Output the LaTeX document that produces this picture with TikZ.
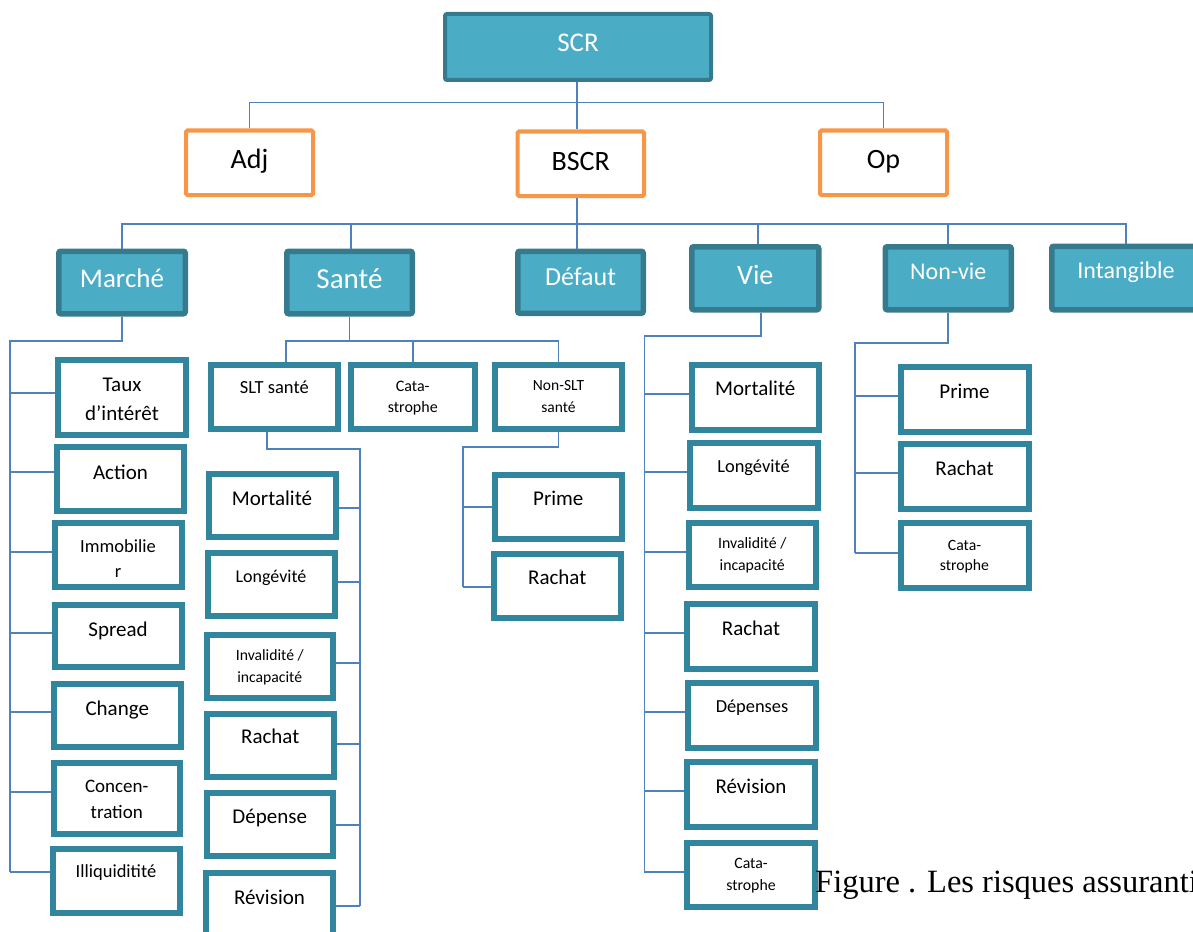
\documentclass[tikz,border=0pt]{standalone}
\usepackage{fontspec}
\setmainfont{Carlito}
\newfontfamily\capfont{Liberation Serif}
\usetikzlibrary{calc}

\definecolor{tealfill}{HTML}{4BACC6}
\definecolor{tealdark}{HTML}{367B8D}
\definecolor{leafedge}{HTML}{31859C}
\definecolor{orangeedge}{HTML}{F79646}
\definecolor{wire}{HTML}{4F81BD}

% font size / baseline skip in pt (1pt = 1 unit of the drawing)
\newcommand\fs[2]{\fontsize{#1pt}{#2pt}\selectfont}
% two centred lines, baseline of the node = baseline of the first line
\newcommand\two[2]{\begin{tabular}[t]{@{}c@{}}#1\\#2\end{tabular}}

% box: style, name, x1, y1, x2, y2 (outer edges), border width, text baseline, text
\newcommand\bx[9]{%
  \pgfmathsetmacro\bcx{(#3+#5)/2}%
  \pgfmathsetmacro\bcy{(#4+#6)/2}%
  \pgfmathsetmacro\bw{#5-#3-#7}%
  \pgfmathsetmacro\bh{#6-#4-#7}%
  \node[#1, line width=#7pt, minimum width=\bw pt, minimum height=\bh pt] (#2) at (\bcx,\bcy) {};%
  \node[#1 text] (#2-t) at (\bcx,#8) {#9};%
}
% horizontal branch at height #3 from a bus line (#1) to a box side (#2)
\newcommand\br[3]{\draw[conn] (#1 |- 0,#3) -- (#2 |- 0,#3);}

\tikzset{
  x=1pt, y=-1pt,
  boxbase/.style={inner sep=0pt, outer sep=auto},
  cat/.style={boxbase, draw=tealdark, fill=tealfill, rounded corners=2pt},
  cat text/.style={anchor=base, inner sep=0pt, text=white},
  sub/.style={boxbase, draw=orangeedge, fill=white, rounded corners=1.5pt},
  sub text/.style={anchor=base, inner sep=0pt, text=black},
  leaf/.style={boxbase, draw=leafedge, fill=white},
  leaf text/.style={anchor=base, inner sep=0pt, text=black},
  conn/.style={draw=wire, line width=1.8pt},
}

\begin{document}
\begin{tikzpicture}
\useasboundingbox (0,0) rectangle (1193,931);
\clip (0,0) rectangle (1193,931);
\fill[white] (0,0) rectangle (1193,931);

% ---- top levels
\bx{cat}{scr}{443}{12}{713}{82}{4}{52}{\fs{27}{32}SCR}
\bx{sub}{adj}{184}{128.5}{315}{197}{4}{168}{\fs{28}{34}Adj}
\bx{sub}{bscr}{515.5}{129.5}{646}{198}{4}{170}{\fs{28}{34}BSCR}
\bx{sub}{op}{818}{128.5}{949}{197}{4}{168}{\fs{28}{34}Op}

\bx{cat}{marche}{56}{248.5}{188}{316.5}{5.5}{287}{\fs{27}{32}Marché}
\bx{cat}{sante}{284}{248.5}{415}{316.5}{5.5}{288}{\fs{29}{34}Santé}
\bx{cat}{defaut}{515}{248.5}{646}{316}{5.5}{285}{\fs{26}{31}Défaut}
\bx{cat}{vie}{689}{244}{821.5}{312.5}{5.5}{284}{\fs{28}{33}Vie}
\bx{cat}{nonvie}{882.5}{244}{1014}{312.5}{5.5}{279}{\fs{24}{29}Non-vie}
\bx{cat}{intang}{1049}{243.5}{1203}{312.5}{5.5}{278}{\fs{24}{29}Intangible}

% ---- market risks
\bx{leaf}{taux}{55}{356.5}{189}{438}{6}{391}{\fs{21}{29}\two{Taux}{d’intérêt}}
\bx{leaf}{action}{54}{444}{187}{514}{6}{479}{\fs{21}{25}Action}
\bx{leaf}{immob}{51.5}{520}{184.5}{589.5}{6}{552}{\fs{18.5}{25}\two{Immobilie}{r}}
\bx{leaf}{spread}{51.5}{601.5}{184.5}{670}{6}{636}{\fs{21}{25}Spread}
\bx{leaf}{change}{51}{680.5}{183.5}{750}{6}{715}{\fs{21}{25}Change}
\bx{leaf}{concen}{50.5}{760}{183}{837}{6}{792}{\fs{19}{26}\two{Concen-}{tration}}
\bx{leaf}{illiq}{49.5}{846}{182.5}{916}{6}{877.7}{\fs{18.5}{22}Illiquiditité}

% ---- health risks
\bx{leaf}{slt}{207.5}{361.5}{341}{431.5}{6}{393}{\fs{18.5}{22}SLT santé}
\bx{leaf}{cata}{347.5}{361.5}{478}{431.5}{6}{391.7}{\fs{16}{21}\two{Cata-}{strophe}}
\bx{leaf}{nonslt}{492}{361.5}{625}{431.5}{6}{390}{\fs{15.5}{22.5}\two{Non-SLT}{santé}}

\bx{leaf}{smort}{205.5}{470.5}{338.5}{540}{6}{505}{\fs{21}{25}Mortalité}
\bx{leaf}{slong}{204.5}{550}{337.5}{619}{6}{582}{\fs{18}{22}Longévité}
\bx{leaf}{sinv}{203.5}{631.5}{336}{701}{6}{660.7}{\fs{15.7}{22}\two{Invalidité /}{incapacité}}
\bx{leaf}{srach}{204}{710.5}{336.5}{780}{6}{743}{\fs{21}{25}Rachat}
\bx{leaf}{sdep}{203.5}{790}{336}{859}{6}{823}{\fs{21}{25}Dépense}
\bx{leaf}{srev}{203}{870}{336}{940}{6}{904}{\fs{21}{25}Révision}

\bx{leaf}{nprime}{491.5}{471.5}{625}{541.5}{6}{505}{\fs{21}{25}Prime}
\bx{leaf}{nrach}{490.5}{550.5}{624}{620.5}{6}{584}{\fs{21}{25}Rachat}

% ---- life risks
\bx{leaf}{vmort}{688.5}{361.5}{822}{432.5}{6}{395.7}{\fs{21}{25}Mortalité}
\bx{leaf}{vlong}{686.5}{440}{820.5}{510.5}{6}{472}{\fs{18.4}{22}Longévité}
\bx{leaf}{vinv}{685.5}{519.5}{819}{590}{6}{548}{\fs{15.8}{22}\two{Invalidité /}{incapacité}}
\bx{leaf}{vrach}{684}{601}{818}{671.5}{6}{635.7}{\fs{21}{25}Rachat}
\bx{leaf}{vdep}{685}{679.5}{819}{750.5}{6}{712}{\fs{18.4}{22}Dépenses}
\bx{leaf}{vrev}{684}{759}{818}{829.5}{6}{793}{\fs{21}{25}Révision}
\bx{leaf}{vcata}{684}{839.5}{818}{910}{6}{868}{\fs{15.8}{22}\two{Cata-}{strophe}}

% ---- non-life risks
\bx{leaf}{nvprime}{897.5}{364}{1031.5}{434.5}{6}{398.3}{\fs{21}{25}Prime}
\bx{leaf}{nvrach}{897.5}{441}{1031.5}{511.5}{6}{475.7}{\fs{21}{25}Rachat}
\bx{leaf}{nvcata}{897.5}{520}{1031.5}{590.5}{6}{550.7}{\fs{15.7}{20}\two{Cata-}{strophe}}

% ---- connectors
\coordinate (b0) at (577,102.5);
\coordinate (b1) at (577,224);
\draw[conn] (b0 |- scr.south) -- (b0 |- bscr.north);
\draw[conn] (adj.north) |- (b0) -| (op.north);
\draw[conn] (b1 |- bscr.south) -- (b1);
\draw[conn] (marche.north) |- (b1) -| (intang.north);
\draw[conn] (b1) -| ([xshift=1.5pt]sante.north);
\draw[conn] (b1) -- (b1 |- defaut.north);
\draw[conn] (b1) -| ([xshift=2.5pt]vie.north);
\draw[conn] (b1) -| (nonvie.north);

% market
\coordinate (mb) at (10,341);
\draw[conn] (marche.south) |- (mb) -- (mb |- 0,872.3);
\br{mb}{taux.west}{393.3}
\br{mb}{action.west}{472.3}
\br{mb}{immob.west}{551.7}
\br{mb}{spread.west}{633.3}
\br{mb}{change.west}{712.3}
\br{mb}{concen.west}{791.7}
\br{mb}{illiq.west}{872.3}

% health
\coordinate (s0) at (350,341);
\draw[conn] (sante.south) -- (sante.south |- s0);
\draw[conn] ([xshift=12pt]slt.north) |- (s0) -| (nonslt.north);
\draw[conn] (cata.north) -- (cata.north |- s0);

\coordinate (sb) at (360,449.3);
\draw[conn] ([xshift=-7.5pt]slt.south) |- (sb) -- (sb |- 0,906);
\br{sb}{smort.east}{507.7}
\br{sb}{slong.east}{581.7}
\br{sb}{sinv.east}{662.7}
\br{sb}{srach.east}{744}
\br{sb}{sdep.east}{825}
\br{sb}{srev.east}{906}

\coordinate (nb) at (463.3,446.7);
\draw[conn] (nonslt.south) |- (nb) -- (nb |- 0,586.7);
\br{nb}{nprime.west}{507.3}
\br{nb}{nrach.west}{586.7}

% life
\coordinate (vb) at (644.4,336);
\draw[conn] ([xshift=6pt]vie.south) |- (vb) -- (vb |- 0,872);
\br{vb}{vmort.west}{394}
\br{vb}{vlong.west}{472.3}
\br{vb}{vinv.west}{551.7}
\br{vb}{vrach.west}{633.3}
\br{vb}{vdep.west}{712.3}
\br{vb}{vrev.west}{791.3}
\br{vb}{vcata.west}{872}

% non-life
\coordinate (nvb) at (855,342.7);
\draw[conn] (nonvie.south) |- (nvb) -- (nvb |- 0,552.7);
\br{nvb}{nvprime.west}{395.7}
\br{nvb}{nvrach.west}{473.3}
\br{nvb}{nvcata.west}{552.7}

% caption
\node[anchor=base west, inner sep=0pt, font=\capfont\fs{32.5}{38}] (caption) at (815,892) {Figure . Les risques assurantiels};
\end{tikzpicture}
\end{document}
